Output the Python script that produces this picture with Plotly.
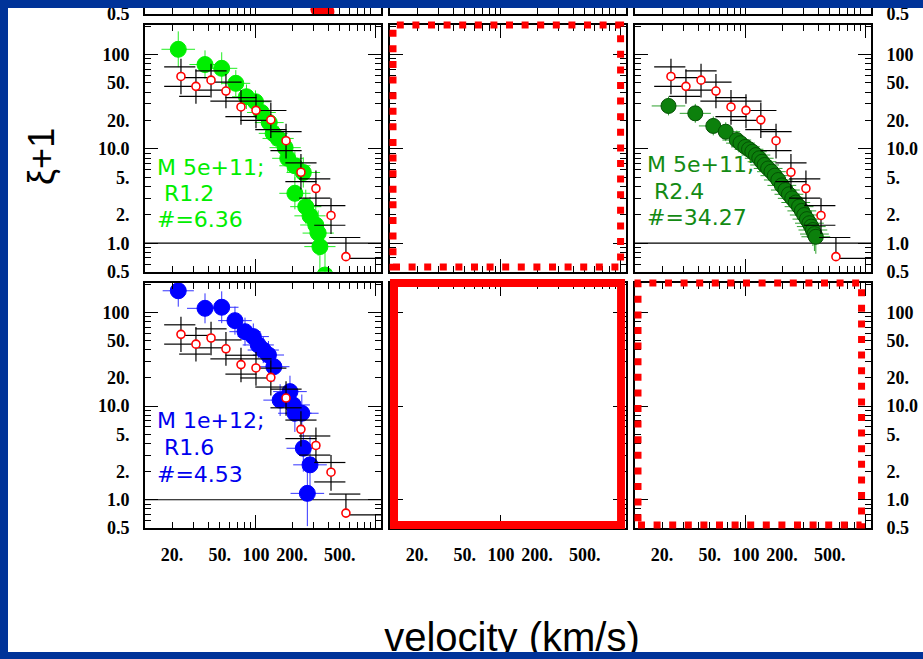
import plotly.graph_objects as go

W, H = 923, 659

# ---------------- data ----------------
# observational points (same in each data panel): red open circles
obs_v = [23.7, 31.6, 42.2, 56.2, 75.0, 100, 133, 178, 237, 316, 422, 562]
obs_y = [58.5, 46, 53.5, 41, 27.8, 25.6, 20.3, 12.2, 5.65, 3.8, 1.97, 0.72]
obs_ytop = [90, 70, 80, 62, 42, 38, 31, 18.5, 8.8, 5.9, 3.0, 1.15]
obs_ybot = [38, 30, 35, 27, 18, 16.5, 13, 7.9, 3.7, 2.5, 1.25, 0.72]
# black crosses: upper and lower horizontal bars
obs_hi = [74, 57, 67, 51, 35, 32, 25.5, 15.2, 7.1, 4.8, 2.5, 1.15]
obs_lo = [46, 36, 42, 32, 22, 20, 16, 9.6, 4.5, 3.0, 1.55, 0.69]
bar_left_dex = [0.14, 0.14, 0.13, 0.13, 0.13, 0.13, 0.13, 0.13, 0.13, 0.14, 0.14, 0.14]
bar_right_dex = [0.12, 0.12, 0.13, 0.13, 0.13, 0.13, 0.13, 0.13, 0.13, 0.12, 0.12, 0.12]
lo_left_dex = [0.14, 0.14, 0.13, 0.13, 0.13, 0.13, 0.13, 0.13, 0.13, 0.14, 0.14, 0.0]
lo_right_dex = [0.12, 0.12, 0.13, 0.13, 0.13, 0.13, 0.13, 0.13, 0.13, 0.12, 0.12, 0.40]

# model M 5e+11; R1.2 (bright green)
g1_v = [22.5, 37.6, 51.8, 67.9, 83.3, 99, 111, 129, 139, 153, 175, 184, 211, 248, 211, 260, 282, 315, 330, 341, 376]
g1_y = [113.6, 78.3, 71.4, 49.5, 35.7, 31.6, 24.3, 19.0, 14.6, 12.9, 10.3, 7.94, 6.62, 5.62, 3.38, 2.44, 1.95, 1.56, 1.28, 0.92, 0.46]
g1_ex = [0.14, 0.13, 0.13, 0.12, 0.12, 0.12, 0.12, 0.12, 0.12, 0.13, 0.13, 0.13, 0.13, 0.14, 0.13, 0.13, 0.13, 0.13, 0.13, 0.13, 0.13]
g1_ey = [0.19, 0.15, 0.17, 0.14, 0.13, 0.12, 0.13, 0.13, 0.13, 0.13, 0.14, 0.15, 0.15, 0.16, 0.17, 0.18, 0.20, 0.22, 0.24, 0.28, 0.30]

# model M 5e+11; R2.4 (dark green)
g2_v = [22.6, 37.8, 53.4, 67.8, 83.8, 90, 98.9, 106, 113, 121, 129, 136, 143, 153, 163, 174, 186, 199, 213, 228, 243, 260, 277, 292, 306, 322, 338, 350, 361, 372, 382]
g2_y = [28.5, 23.8, 17.5, 15.2, 12.4, 11.5, 10.5, 9.9, 9.33, 8.6, 7.95, 7.3, 6.75, 6.2, 5.73, 5.2, 4.68, 4.1, 3.66, 3.3, 2.99, 2.7, 2.44, 2.2, 1.99, 1.8, 1.63, 1.5, 1.38, 1.25, 1.17]
g2_ex = [0.14, 0.13, 0.12, 0.12, 0.12, 0.12, 0.12, 0.12, 0.12, 0.12, 0.12, 0.12, 0.12, 0.12, 0.12, 0.12, 0.12, 0.12, 0.12, 0.12, 0.12, 0.12, 0.12, 0.12, 0.12, 0.12, 0.12, 0.12, 0.12, 0.12, 0.12]
g2_ey = [0.10, 0.10, 0.10, 0.10, 0.10, 0.10, 0.10, 0.10, 0.10, 0.10, 0.11, 0.11, 0.11, 0.11, 0.12, 0.12, 0.12, 0.12, 0.13, 0.13, 0.13, 0.14, 0.14, 0.15, 0.15, 0.16, 0.16, 0.17, 0.17, 0.18, 0.18]

# model M 1e+12; R1.6 (blue)
b_v = [22.5, 37.6, 51.8, 66.8, 81, 95, 104.5, 115, 127, 141, 159, 192, 204, 211, 241, 248, 282, 268]
b_y = [171, 111, 114, 82, 62.5, 55.4, 45.1, 39.8, 35.2, 26.4, 11.6, 14.3, 10.3, 8.4, 8.4, 3.55, 2.36, 1.17]
b_ex = [0.13, 0.15, 0.14, 0.14, 0.13, 0.13, 0.13, 0.13, 0.13, 0.13, 0.14, 0.14, 0.14, 0.14, 0.14, 0.14, 0.14, 0.14]
b_ey = [0.17, 0.16, 0.17, 0.15, 0.15, 0.14, 0.14, 0.14, 0.15, 0.16, 0.17, 0.17, 0.18, 0.20, 0.20, 0.25, 0.30, 0.35]

# clipped red model points at the bottom of the (cropped) top-left panel
top_v = [328, 390]
top_y = [0.56, 0.53]

x_label_vals = [20, 50, 100, 200, 500]
x_label_text = ["20.", "50.", "100", "200.", "500."]
x_minor_vals = [30, 40, 60, 70, 80, 90, 300, 400, 600, 700, 800, 900]
x_major_vals = [10, 100, 1000]
y_label_vals = [0.5, 1, 2, 5, 10, 20, 50, 100]
y_label_text = ["0.5", "1.0", "2.", "5.", "10.0", "20.", "50.", "100"]
y_minor_vals = [0.6, 0.7, 0.8, 0.9, 3, 4, 6, 7, 8, 9, 30, 40, 60, 70, 80, 90, 200]
y_major_vals = [1, 10, 100]

panel_texts = {
    4: ("#00ee00", ["M 5e+11;", "\u00a0R1.2", "#=6.36"]),
    6: ("#138a13", ["M 5e+11;", "\u00a0R2.4", "#=34.27"]),
    7: ("#0000ee", ["M 1e+12;", "\u00a0R1.6", "#=4.53"]),
}
x_title = "velocity (km/s)"
y_title = "\u03be+1"

# ---------------- layout geometry (pixels) ----------------
cols_px = [(145, 381), (390, 626), (635, 871)]
rows_px = [(0, 14), (24.7, 271.7), (283, 528)]
XR = [1.075, 3.042]
YR = [-0.302, 2.316]
YR_TOP = [-0.302, -0.302 + 14 / 94.4]


def pxx(p):
    return p / W


def pxy(p):
    return 1 - p / H


def lp(vals, dex):
    return [v * (10 ** d - 1) for v, d in zip(vals, dex)]


def lm(vals, dex):
    return [v * (1 - 10 ** (-d)) for v, d in zip(vals, dex)]


fig = go.Figure()
layout = dict(
    width=W, height=H, autosize=False,
    margin=dict(l=0, r=0, t=0, b=0, pad=0, autoexpand=False),
    paper_bgcolor="white", plot_bgcolor="rgba(0,0,0,0)",
    showlegend=False, dragmode=False,
    font=dict(family="Liberation Sans", color="black"),
)
tickfont = dict(family="Liberation Serif", size=18, color="black", weight="bold")

for r in range(3):
    for c in range(3):
        n = r * 3 + c + 1
        x0, x1 = cols_px[c]
        ytop, ybot = rows_px[r]
        yr = YR_TOP if r == 0 else YR
        xa = dict(
            type="log", range=XR, domain=[pxx(x0), pxx(x1)], anchor=f"y{n}", automargin=False,
            showgrid=False, zeroline=False, showline=True, linecolor="black", linewidth=2,
            mirror="ticks", ticks="inside", ticklen=6, tickwidth=1.2, tickcolor="black",
            tickmode="array", tickvals=x_label_vals, ticktext=x_label_text,
            showticklabels=(r == 2), tickangle=0, tickfont=tickfont, ticklabelstandoff=9,
            minor=dict(tickmode="array", tickvals=x_minor_vals, ticks="inside", ticklen=6,
                       tickwidth=1.2, tickcolor="black", showgrid=False),
            fixedrange=True,
        )
        ya = dict(
            type="log", range=yr, domain=[pxy(ybot), pxy(ytop)], anchor=f"x{n}", automargin=False,
            side="right" if c == 2 else "left",
            showgrid=False, zeroline=False, showline=True, linecolor="black", linewidth=2,
            mirror="ticks", ticks="inside", ticklen=6, tickwidth=1.2, tickcolor="black",
            tickmode="array", tickvals=y_label_vals, ticktext=y_label_text,
            showticklabels=(c != 1), tickfont=tickfont, ticklabelstandoff=10,
            minor=dict(tickmode="array", tickvals=y_minor_vals, ticks="inside", ticklen=6,
                       tickwidth=1.2, tickcolor="black", showgrid=False),
            fixedrange=True,
        )
        layout[f"xaxis{n}"] = xa
        layout[f"yaxis{n}"] = ya
        if r > 0:
            m = n + 9
            layout[f"xaxis{m}"] = dict(
                type="log", range=XR, overlaying=f"x{n}", anchor=f"y{n}", side="bottom",
                automargin=False,
                showgrid=False, zeroline=False, showline=False, mirror="ticks",
                ticks="inside", ticklen=13, tickwidth=1.2, tickcolor="black",
                tickmode="array", tickvals=x_major_vals, showticklabels=False, fixedrange=True,
            )
            layout[f"yaxis{m}"] = dict(
                type="log", range=yr, overlaying=f"y{n}", anchor=f"x{n}",
                side="right" if c == 2 else "left", automargin=False,
                showgrid=False, zeroline=False, showline=False, mirror="ticks",
                ticks="inside", ticklen=13, tickwidth=1.2, tickcolor="black",
                tickmode="array", tickvals=y_major_vals, showticklabels=False, fixedrange=True,
            )
            fig.add_trace(go.Scatter(x=[], y=[], xaxis=f"x{m}", yaxis=f"y{m}",
                                     mode="markers", hoverinfo="skip"))
        fig.add_trace(go.Scatter(x=[], y=[], xaxis=f"x{n}", yaxis=f"y{n}",
                                 mode="markers", hoverinfo="skip"))


def add_model(n, v, y, ex, ey, color, ecolor, lcolor, size):
    fig.add_trace(go.Scatter(
        x=v, y=y, xaxis=f"x{n}", yaxis=f"y{n}", mode="markers",
        marker=dict(size=size, color=color, line=dict(color=lcolor, width=1)),
        error_x=dict(type="data", symmetric=False, array=lp(v, ex), arrayminus=lm(v, ex),
                     color=ecolor, thickness=1, width=0),
        error_y=dict(type="data", symmetric=False, array=lp(y, ey), arrayminus=lm(y, ey),
                     color=ecolor, thickness=1, width=0),
        hoverinfo="skip",
    ))


def add_obs(n):
    for yy, el, er in ((obs_hi, bar_left_dex, bar_right_dex), (obs_lo, lo_left_dex, lo_right_dex)):
        fig.add_trace(go.Scatter(
            x=obs_v, y=yy, xaxis=f"x{n}", yaxis=f"y{n}", mode="markers",
            marker=dict(size=1, color="rgba(0,0,0,0)"),
            error_x=dict(type="data", symmetric=False, array=lp(obs_v, er), arrayminus=lm(obs_v, el),
                         color="black", thickness=1.2, width=0),
            hoverinfo="skip",
        ))
    fig.add_trace(go.Scatter(
        x=obs_v, y=obs_y, xaxis=f"x{n}", yaxis=f"y{n}", mode="markers",
        marker=dict(size=8, color="white", line=dict(color="#ff0000", width=1.6)),
        error_y=dict(type="data", symmetric=False,
                     array=[t - o for t, o in zip(obs_ytop, obs_y)],
                     arrayminus=[o - b for o, b in zip(obs_y, obs_ybot)],
                     color="black", thickness=1.2, width=0),
        hoverinfo="skip",
    ))


add_model(4, g1_v, g1_y, g1_ex, g1_ey, "#00ee00", "#22ee22", "#00ee00", 16)
add_obs(4)
add_model(6, g2_v, g2_y, g2_ex, g2_ey, "#0c800c", "#2ea02e", "#045004", 15)
add_obs(6)
add_model(7, b_v, b_y, b_ex, b_ey, "#0000ff", "#3333ff", "#0000ff", 16)
add_obs(7)

fig.add_trace(go.Scatter(x=top_v, y=top_y, xaxis="x1", yaxis="y1", mode="markers",
                         marker=dict(size=15, color="#ff0000"), hoverinfo="skip"))

# x-axis title drawn as text on a hidden helper axis whose area ends where the
# blue frame starts, so the text is clipped there like in the slide
layout["xaxis19"] = dict(domain=[0, 1], range=[0, 1], visible=False, fixedrange=True,
                         anchor="y19", side="top", automargin=False)
layout["yaxis19"] = dict(domain=[pxy(652), pxy(560)], range=[0, 1], visible=False,
                         fixedrange=True, anchor="x19", automargin=False)
fig.add_trace(go.Scatter(x=[512 / W], y=[0.12], xaxis="x19", yaxis="y19", mode="text",
                         text=[x_title], textposition="middle center",
                         textfont=dict(family="Liberation Sans", size=40, color="black"),
                         cliponaxis=True, hoverinfo="skip"))

shapes = []
for n in (4, 6, 7):
    shapes.append(dict(type="line", xref=f"x{n} domain", yref=f"y{n}", x0=0, x1=1, y0=1, y1=1,
                       line=dict(color="black", width=1.2), layer="below"))
shapes.append(dict(type="rect", xref="x5 domain", yref="y5 domain", x0=0.0127, x1=0.977, y0=0.019, y1=0.999,
                   line=dict(color="#ff0000", width=7, dash="7px,8.6px"), layer="above"))
shapes.append(dict(type="rect", xref="x8 domain", yref="y8 domain", x0=0.017, x1=0.979, y0=0.012, y1=1.0,
                   line=dict(color="#ff0000", width=8), layer="above"))
shapes.append(dict(type="rect", xref="x9 domain", yref="y9 domain", x0=0.0127, x1=0.96, y0=0.012, y1=1.0,
                   line=dict(color="#ff0000", width=7, dash="7px,8.6px"), layer="above"))
frame = "#003399"
shapes.append(dict(type="rect", xref="paper", yref="paper", x0=0, x1=pxx(8), y0=0, y1=1,
                   fillcolor=frame, line=dict(width=0), layer="above"))
shapes.append(dict(type="rect", xref="paper", yref="paper", x0=0, x1=1, y0=pxy(8), y1=1,
                   fillcolor=frame, line=dict(width=0), layer="above"))
shapes.append(dict(type="rect", xref="paper", yref="paper", x0=0, x1=1, y0=0, y1=pxy(652),
                   fillcolor=frame, line=dict(width=0), layer="above"))
layout["shapes"] = shapes

annotations = [dict(text=y_title, xref="paper", yref="paper", x=pxx(42), y=pxy(157),
                    textangle=-90, showarrow=False, xanchor="center", yanchor="middle",
                    font=dict(family="Liberation Sans", size=36, color="black"))]
line_y = {4: [167.5, 193.5, 219], 6: [164, 191.5, 218], 7: [420, 447, 474]}
for n, (color, lines) in panel_texts.items():
    r = (n - 1) // 3
    ytop, ybot = rows_px[r]
    for t, py in zip(lines, line_y[n]):
        annotations.append(dict(text=t, xref=f"x{n} domain", yref=f"y{n} domain",
                                x=10 / 236, y=(ybot - py) / (ybot - ytop),
                                xanchor="left", yanchor="middle", showarrow=False,
                                font=dict(family="DejaVu Sans", size=22, color=color)))
layout["annotations"] = annotations

fig.update_layout(**layout)
fig.write_html("out.html", config={"displayModeBar": False})
